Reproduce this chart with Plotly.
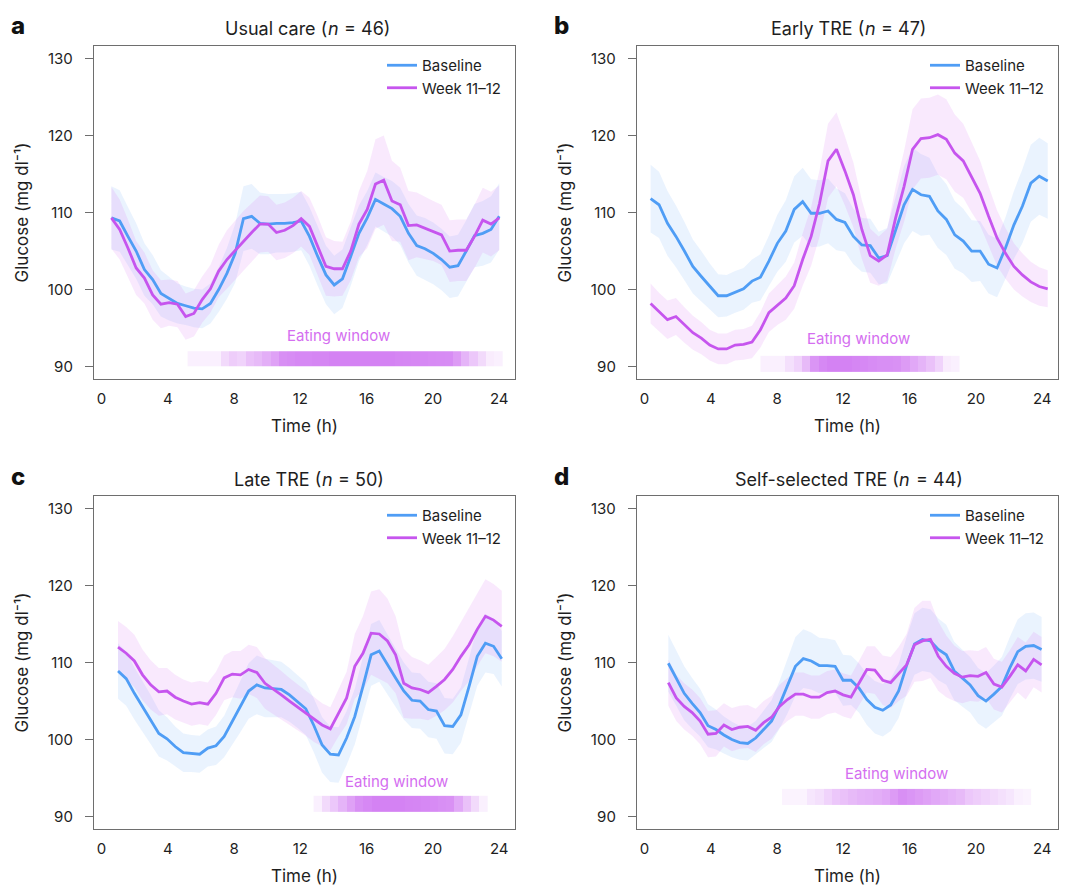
import numpy as np
import plotly.graph_objects as go

# ---------------- data ----------------
time_a = np.linspace(0.6, 24.0, 48)
time_b = np.linspace(0.37, 24.33, 48)
time_c = np.linspace(1.0, 24.15, 48)
time_d = np.linspace(1.44, 23.96, 48)

base_a = [109.3,108.9,106.9,105.0,102.6,101.3,99.5,98.8,98.2,97.9, 97.6,97.5,98.2,100.0,102.1,104.7,109.2,109.5,108.6,108.5,
          108.6,108.6,108.7,108.9,106.9,104.3,101.9,100.6,101.4,104.3, 107.3,109.3,111.7,111.1,110.5,109.5,107.3,105.7,105.3,104.7,
          103.9,102.9,103.1,105.0,107.0,107.3,107.8,109.5]
week_a = [109.3,107.8,105.4,102.8,101.5,99.3,98.1,98.3,98.1,96.5, 96.9,98.7,100.1,102.4,103.9,105.1,106.3,107.4,108.5,108.5,
          107.4,107.7,108.3,109.2,108.2,105.7,103.0,102.7,102.7,105.0, 108.5,110.4,113.7,114.2,111.5,111.0,108.3,108.4,108.0,107.6,
          107.1,105.0,105.1,105.1,106.9,109.0,108.5,109.3]
base_a_se = [4.1,4.0,3.8,3.6,3.4,3.2,3.0,2.8,2.6,2.5, 2.5,2.5,2.6,2.9,3.3,3.8,4.2,4.2,4.0,3.9,
             3.8,3.8,3.8,3.8,3.8,3.8,3.8,3.8,3.8,3.8, 3.6,3.5,3.5,3.5,3.6,3.7,3.8,3.9,4.0,4.0,
             4.0,4.0,4.0,4.0,4.1,4.2,4.3,4.3]
week_a_se = [4.0,3.9,3.7,3.5,3.3,3.2,3.1,3.0,3.0,3.0, 3.0,3.0,3.1,3.4,3.8,3.9,3.9,3.8,3.7,3.6,
             3.6,3.6,3.6,3.6,3.7,3.8,3.8,3.6,3.5,3.8, 4.3,5.0,5.8,5.8,5.2,4.8,4.5,4.2,4.0,3.9,
             3.9,4.0,4.0,4.0,4.1,4.2,4.2,4.2]

base_b = [111.8,111.0,108.6,106.9,105.0,103.0,101.7,100.4,99.2,99.2, 99.7,100.1,101.1,101.6,103.7,106.0,107.6,110.4,111.4,109.9,
          109.9,110.2,109.1,108.7,106.9,105.8,105.7,104.1,104.4,107.8, 111.0,113.0,112.3,112.1,110.2,109.1,107.1,106.3,105.0,105.0,
          103.3,102.8,105.4,108.4,110.8,113.8,114.7,114.1]
week_b = [98.2,97.1,96.1,96.5,95.4,94.4,93.7,92.8,92.3,92.3, 92.8,92.9,93.2,94.8,97.0,98.0,98.9,100.5,103.9,106.9,
          111.2,116.7,118.2,115.4,112.3,107.8,104.4,103.7,104.5,109.3, 113.4,118.2,119.6,119.7,120.1,119.5,117.7,116.7,114.5,112.5,
          109.5,106.7,104.7,103.0,101.9,101.0,100.4,100.1]
base_b_se = [4.4,4.3,4.2,4.0,3.8,3.5,3.3,3.0,2.8,2.7, 2.7,2.7,2.8,3.0,3.3,3.7,4.0,4.3,4.4,4.4,
             4.3,4.2,4.0,3.8,3.6,3.5,3.5,3.4,3.6,4.3, 5.0,5.4,5.3,5.0,4.8,4.6,4.4,4.2,4.0,3.9,
             3.8,3.8,4.0,4.4,4.8,5.0,5.0,4.9]
week_b_se = [2.6,2.5,2.5,2.4,2.3,2.2,2.1,2.0,2.0,2.0, 2.0,2.0,2.1,2.3,2.5,2.6,2.8,3.0,3.4,3.8,
             4.3,4.8,4.8,4.5,4.2,3.8,3.5,3.2,3.4,4.0, 4.6,5.2,5.2,5.2,5.2,5.2,5.0,4.8,4.5,4.2,
             3.9,3.6,3.3,3.0,2.8,2.6,2.5,2.4]

base_c = [108.9,107.9,106.0,104.3,102.6,100.8,100.1,99.1,98.3,98.2, 98.1,98.9,99.2,100.4,102.4,104.3,106.3,107.1,106.7,106.6,
          106.5,105.8,104.9,104.0,101.8,99.3,98.1,98.0,100.2,103.0, 106.9,111.0,111.5,109.7,108.0,106.3,105.1,105.0,103.9,103.7,
          101.8,101.7,103.2,106.9,110.8,112.5,112.1,110.5]
week_c = [112.0,111.2,110.2,108.4,107.1,106.2,106.3,105.5,105.0,104.6, 104.8,104.6,106.0,108.0,108.5,108.4,109.1,108.7,107.3,106.6,
          105.8,105.0,104.2,103.4,102.6,101.9,101.4,103.4,105.4,109.5, 111.2,113.8,113.7,112.8,111.0,107.3,106.7,106.5,106.1,106.9,
          107.8,109.1,110.8,112.3,114.3,116.0,115.5,114.7]
base_c_se = [3.6,3.5,3.4,3.3,3.2,3.0,2.8,2.6,2.5,2.4, 2.4,2.4,2.5,2.7,3.0,3.3,3.6,3.8,3.8,3.7,
             3.6,3.5,3.4,3.4,3.5,3.6,3.6,3.6,3.5,3.6, 3.8,4.0,4.0,3.9,3.8,3.7,3.6,3.6,3.6,3.6,
             3.6,3.6,3.6,3.7,3.8,3.8,3.6,3.6]
week_c_se = [3.4,3.4,3.4,3.3,3.2,3.1,3.0,2.9,2.8,2.8, 2.8,2.8,2.8,2.9,3.0,3.1,3.2,3.3,3.3,3.2,
             3.1,3.0,3.0,2.9,2.9,2.8,2.8,3.0,3.4,4.2, 4.8,5.4,5.8,5.5,5.0,4.5,4.0,3.8,3.6,3.8,
             4.0,4.3,4.5,4.7,4.8,4.8,4.7,4.6]

base_d = [109.9,108.0,106.0,104.7,103.5,101.8,101.3,100.6,100.0,99.6, 99.5,100.2,101.3,102.4,104.5,106.9,109.5,110.5,110.2,109.6,
          109.6,109.5,107.7,107.7,106.7,105.2,104.2,103.8,104.5,106.3, 109.6,112.4,113.0,112.8,111.7,111.0,108.9,108.0,107.1,105.7,
          105.0,105.9,106.9,109.3,111.4,112.1,112.2,111.7]
week_d = [107.4,105.4,104.3,103.5,102.4,100.7,100.8,101.9,101.3,101.6, 101.7,101.2,102.2,102.9,104.3,105.2,105.9,105.9,105.5,105.5,
          106.1,106.3,105.8,105.5,107.3,109.1,109.0,107.7,107.4,108.5, 109.7,112.3,112.8,113.0,110.8,109.5,108.6,108.1,108.3,108.2,
          108.7,107.2,106.8,108.2,109.7,108.9,110.4,109.7]
base_d_se = [3.7,3.6,3.5,3.3,3.1,2.8,2.6,2.4,2.3,2.2, 2.2,2.2,2.4,2.7,3.1,3.5,3.8,3.8,3.7,3.6,
             3.5,3.4,3.3,3.2,3.2,3.3,3.4,3.4,3.4,3.5, 3.7,4.0,4.1,4.1,4.0,3.9,3.8,3.7,3.6,3.6,
             3.6,3.7,3.8,4.0,4.2,4.3,4.3,4.2]
week_d_se = [3.0,3.0,3.0,3.0,3.0,3.0,3.0,2.8,2.8,2.8, 2.8,2.8,2.8,2.8,2.8,2.8,2.8,2.8,2.8,2.8,
             2.8,2.8,2.8,2.8,2.9,3.0,3.1,3.2,3.3,3.5, 4.0,4.8,5.2,5.0,4.5,4.0,3.6,3.4,3.3,3.3,
             3.3,3.3,3.3,3.4,3.6,3.7,3.6,3.6]

# eating-window intensity (share eating), 0.5 h bins given by edges
eat_a_edges = np.linspace(5.2, 24.2, 39)
eat_a_level = [0.12,0.12,0.12,0.12, 0.3,0.4,0.35,0.5,0.55,0.65,0.75,
               0.9,0.92,0.95,0.95,0.97,0.97,1,1,1,1,1,1,1,1,0.98,0.97,0.96,0.95,0.94,0.93,0.92,
               0.8,0.6,0.45,0.3, 0.15,0.12]
eat_b_edges = np.linspace(7.0, 19.0, 25)
eat_b_level = [0.12,0.12,0.12,0.25,0.35,0.55, 0.85,0.95,1,1,1,0.97,0.95,0.92,0.9,0.9,0.88,
               0.8,0.7,0.6,0.5,0.35,0.15,0.12]
eat_c_edges = np.linspace(12.8, 23.3, 22)
eat_c_level = [0.12,0.3,0.45,0.6,0.75, 0.9,0.95,1,1,1,1,0.98,0.97,0.95,0.93,0.9,0.88, 0.7,0.5,0.3,0.12]
eat_d_edges = np.linspace(8.3, 23.3, 31)
eat_d_level = [0.1,0.1,0.1,0.2,0.25,0.35,0.45,0.5,0.55,0.6,0.62,0.65,0.7,0.8,0.9,0.85,0.8,0.75,0.7,0.65,
               0.6,0.55,0.45,0.4,0.35,0.3,0.25,0.2,0.12,0.1]
eat_a_y = [90.0, 92.0]
eat_b_y = [89.3, 91.4]
eat_c_y = [90.65, 92.7]
eat_d_y = [91.55, 93.6]

# panel titles: (group label, n)
group_labels = ["Usual care", "Early TRE", "Late TRE", "Self-selected TRE"]
group_n = [46, 47, 50, 44]
letters = ["a", "b", "c", "d"]
series_names = ["Baseline", "Week 11–12"]
x_ticks = [0, 4, 8, 12, 16, 20, 24]
y_ticks = [90, 100, 110, 120, 130]

# ---------------- style ----------------
FONT = "Inter"
BLUE = "#4f9df5"
PURPLE = "#c655ee"
BLUE_FILL = "rgba(79,157,245,0.12)"
PINK_FILL = "rgba(214,110,240,0.15)"
EAT_SCALE = [[0, "#ffffff"], [1, "#d482f3"]]
AXIS_COL = "#6e6e6e"
TXT = "#1e1e1e"
W, H = 1080, 891
NBSP = "\u00a0"

panels = [
    dict(t=time_a, base=base_a, week=week_a, bse=base_a_se, wse=week_a_se,
         ee=eat_a_edges, el=eat_a_level, ey=eat_a_y, etx=(14.3, 94.0), ncx=333),
    dict(t=time_b, base=base_b, week=week_b, bse=base_b_se, wse=week_b_se,
         ee=eat_b_edges, el=eat_b_level, ey=eat_b_y, etx=(12.9, 93.6), ncx=870),
    dict(t=time_c, base=base_c, week=week_c, bse=base_c_se, wse=week_c_se,
         ee=eat_c_edges, el=eat_c_level, ey=eat_c_y, etx=(17.8, 94.6), ncx=327),
    dict(t=time_d, base=base_d, week=week_d, bse=base_d_se, wse=week_d_se,
         ee=eat_d_edges, el=eat_d_level, ey=eat_d_y, etx=(15.2, 95.6), ncx=905),
]

# pixel boxes (left, right, top, bottom)
boxes = [(94, 515, 46, 379), (637, 1058, 46, 379), (94, 515, 496, 829), (637, 1058, 496, 829)]

fig = go.Figure()
annotations = []
layout = {}
for i, p in enumerate(panels):
    sfx = "" if i == 0 else str(i + 1)
    xa, ya = "x" + sfx, "y" + sfx
    leg = "legend" + sfx
    t = np.asarray(p["t"])
    fig.add_trace(go.Heatmap(x=p["ee"], y=p["ey"], z=[p["el"]], zmin=0, zmax=1,
                             colorscale=EAT_SCALE, showscale=False, hoverinfo="skip",
                             xaxis=xa, yaxis=ya))
    for mean, se, fillc in ((p["base"], p["bse"], BLUE_FILL), (p["week"], p["wse"], PINK_FILL)):
        m = np.asarray(mean); s = np.asarray(se)
        fig.add_trace(go.Scatter(x=np.concatenate([t, t[::-1]]),
                                 y=np.concatenate([m + s, (m - s)[::-1]]),
                                 fill="toself", fillcolor=fillc, mode="lines",
                                 line=dict(width=0, color=fillc), hoverinfo="skip",
                                 showlegend=False, xaxis=xa, yaxis=ya))
    for mean, col, nm in ((p["base"], BLUE, series_names[0]), (p["week"], PURPLE, series_names[1])):
        fig.add_trace(go.Scatter(x=t, y=mean, mode="lines", name=nm,
                                 line=dict(color=col, width=2.8),
                                 legend=leg, xaxis=xa, yaxis=ya))
    l, r, tp, bt = boxes[i]
    layout["xaxis" + sfx] = dict(domain=[l / W, r / W], range=[-0.45, 24.95], anchor=ya,
                                 tickvals=x_ticks, ticks="", showline=True, linecolor=AXIS_COL,
                                 linewidth=1.3, mirror=True, showgrid=False, zeroline=False,
                                 automargin=False,
                                 title=dict(text="Time (h)", standoff=12,
                                            font=dict(family=FONT, size=17, color=TXT)),
                                 tickfont=dict(family=FONT, size=15, color=TXT), ticklabelstandoff=6)
    layout["yaxis" + sfx] = dict(domain=[1 - bt / H, 1 - tp / H], range=[88.4, 131.6], anchor=xa,
                                 tickvals=y_ticks, ticks="outside", ticklen=8, tickwidth=1.3,
                                 tickcolor=AXIS_COL, showline=True, linecolor=AXIS_COL,
                                 linewidth=1.3, mirror=True, showgrid=False, zeroline=False,
                                 automargin=False,
                                 title=dict(text="Glucose (mg dl⁻¹)", standoff=14,
                                            font=dict(family=FONT, size=17, color=TXT)),
                                 tickfont=dict(family=FONT, size=15, color=TXT), ticklabelstandoff=9)
    layout[leg] = dict(x=(r - 133) / W, xanchor="left", y=1 - (tp + 3) / H, yanchor="top",
                       bgcolor="rgba(0,0,0,0)", font=dict(family=FONT, size=15, color=TXT),
                       tracegroupgap=0)
    # title split in three parts so that the italic "n" carries its own font
    ty = 1 - (tp - 17) / H
    tfont = dict(family=FONT, size=18, color=TXT)
    ncx = p["ncx"]
    annotations.append(dict(text=group_labels[i] + NBSP + "(", x=(ncx - 5) / W, y=ty,
                            xref="paper", yref="paper", showarrow=False, borderpad=0,
                            font=tfont, xanchor="right", yanchor="middle"))
    annotations.append(dict(text="n", x=ncx / W, y=ty, xref="paper", yref="paper",
                            showarrow=False, borderpad=0,
                            font=dict(family=FONT, size=18, color=TXT, style="italic"),
                            xanchor="center", yanchor="middle"))
    annotations.append(dict(text=NBSP + "=" + NBSP + str(group_n[i]) + ")", x=(ncx + 5) / W, y=ty,
                            xref="paper", yref="paper", showarrow=False, borderpad=0,
                            font=tfont, xanchor="left", yanchor="middle"))
    annotations.append(dict(text=letters[i], x=(l - 85) / W, y=1 - (tp - 20) / H,
                            xref="paper", yref="paper", showarrow=False,
                            font=dict(family=FONT, size=24, color="#111", weight=800),
                            xanchor="left", yanchor="middle"))
    annotations.append(dict(text="Eating window", x=p["etx"][0], y=p["etx"][1], xref=xa, yref=ya,
                            showarrow=False, font=dict(family=FONT, size=15, color="#d46ef0"),
                            xanchor="center", yanchor="middle"))

fig.update_layout(width=W, height=H, margin=dict(l=0, r=0, t=0, b=0),
                  paper_bgcolor="white", plot_bgcolor="white",
                  annotations=annotations, **layout)
fig.write_html("out.html", config={"displayModeBar": False},
               post_script="document.body.style.margin='0';document.body.style.padding='0';")
